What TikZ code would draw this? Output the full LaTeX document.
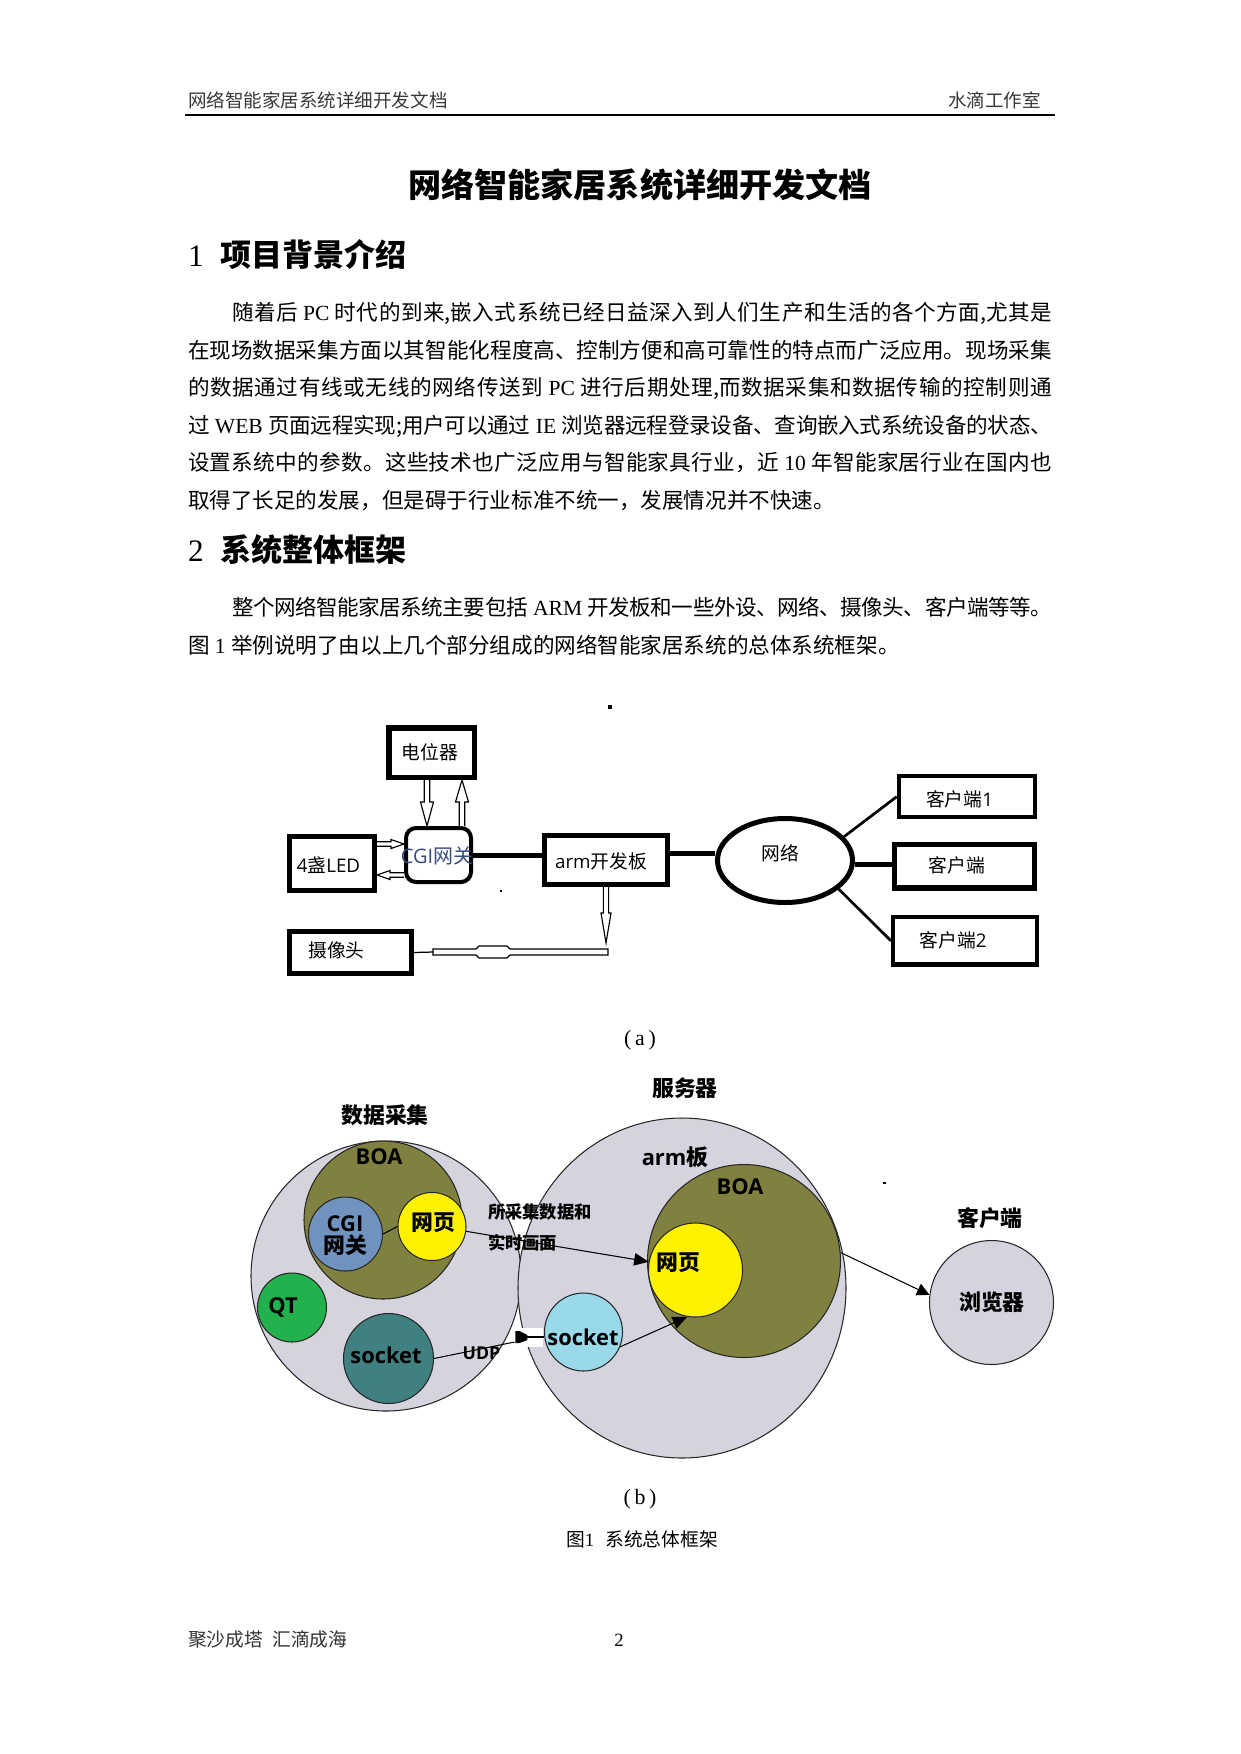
\documentclass[tikz,border=0pt]{standalone}
\usepackage{fontspec}
\usetikzlibrary{calc,arrows.meta,shapes.geometric}
\setmainfont{Liberation Serif}
\newfontfamily\cjk{Noto Sans CJK SC}
\newfontfamily\osans{Open Sans}
\XeTeXinterchartokenstate=1
\newXeTeXintercharclass\clsI
\newcount\cjkc
\cjkc="4E00
\loop\XeTeXcharclass\cjkc=\clsI\ifnum\cjkc<"9FFF\advance\cjkc by 1\repeat
\XeTeXcharclass"3001=\clsI
\XeTeXcharclass"3002=\clsI
\XeTeXcharclass"FF0C=\clsI
\XeTeXcharclass"FF1B=\clsI
\XeTeXinterchartoks\clsI\clsI={\hskip 0pt plus 1pt minus 0.3pt\relax}
\newcommand\latw[1]{{\rmfamily #1}}
\newcommand\lsp{\hspace{0.25em}}
\newcommand\os[1]{{\osans #1}}
\newcommand\harr[6]{\draw[hollowline, shift={#1}, rotate=#2] (0,-#6) -- ({#3-#4},-#6) -- ({#3-#4},-#5) -- (#3,0) -- ({#3-#4},#5) -- ({#3-#4},#6) -- (0,#6);}
\definecolor{cgray}{RGB}{213,211,221}
\definecolor{olivec}{RGB}{128,128,64}
\definecolor{cgiblue}{RGB}{112,146,190}
\definecolor{yelc}{RGB}{255,242,0}
\definecolor{qtgreen}{RGB}{34,177,76}
\definecolor{tealc}{RGB}{64,128,128}
\definecolor{lblue}{RGB}{153,217,234}
\definecolor{cgitext}{RGB}{55,75,125}
\begin{document}
\begin{tikzpicture}[x=0.48pt,y=-0.48pt,
 txt/.style={inner sep=0pt, outer sep=0pt},
 bodyl/.style={txt, anchor=base west, font=\cjk\fontsize{10.35}{12}\selectfont},
 hdr/.style={txt, anchor=base, font=\cjk\fontsize{8.9}{10}\selectfont, text=black!78},
 alab/.style={txt, font=\cjk\fontsize{9}{10}\selectfont},
 blab/.style={txt, font=\cjk\bfseries\fontsize{10.5}{10.5}\selectfont},
 boxa/.style={draw, rectangle, inner sep=0pt, line width=2.4pt},
 bub/.style={circle, draw=black!85, line width=0.5pt, inner sep=0pt},
 hollowline/.style={draw, line width=0.55pt, fill=white},
 thinarr/.style={line width=0.5pt, -{Triangle[length=7pt,width=6pt]}},
]
\fill[white] (0,0) rectangle (1241,1754);
\useasboundingbox (0,0) rectangle (1241,1754);

% ---------- header ----------
\node[hdr, anchor=base west] (hl) at (188,107.9) {网络智能家居系统详细开发文档};
\node[hdr, anchor=base east] (hr) at (1041,107.9) {水滴工作室};
\draw[line width=1.1pt] (185,115) -- (1055,115);

% ---------- title & text ----------
\node[txt, anchor=base, font=\cjk\bfseries\fontsize{15.9}{17}\selectfont] (title) at (640,197.4) {网络智能家居系统详细开发文档};

\node[txt, anchor=base west, font=\fontsize{15}{17}\selectfont] (h1n) at (188,266.6) {1};
\node[txt, anchor=base west, font=\cjk\bfseries\fontsize{14.9}{17}\selectfont] (h1) at (220,266.6) {项目背景介绍};

\node[bodyl] (p1) at (232,320.3) {\hbox to 393.6pt{随着后\lsp\latw{PC}\lsp 时代的到来,嵌入式系统已经日益深入到人们生产和生活的各个方面,尤其是}};
\node[bodyl] (p2) at (188,358.1) {\hbox to 414.7pt{在现场数据采集方面以其智能化程度高、控制方便和高可靠性的特点而广泛应用。现场采集}};
\node[bodyl] (p3) at (188,395.7) {\hbox to 414.7pt{的数据通过有线或无线的网络传送到\lsp\latw{PC}\lsp 进行后期处理,而数据采集和数据传输的控制则通}};
\node[bodyl] (p4) at (188,433.3) {\hbox to 414.7pt{过\lsp\latw{WEB}\lsp 页面远程实现;用户可以通过\lsp\latw{IE}\lsp 浏览器远程登录设备、查询嵌入式系统设备的状态、}};
\node[bodyl] (p5) at (188,470.9) {\hbox to 414.7pt{设置系统中的参数。这些技术也广泛应用与智能家具行业，近\lsp\latw{10}\lsp 年智能家居行业在国内也}};
\node[bodyl] (p6) at (188,508.5) {取得了长足的发展，但是碍于行业标准不统一，发展情况并不快速。};

\node[txt, anchor=base west, font=\fontsize{15}{17}\selectfont] (h2n) at (188,561.1) {2};
\node[txt, anchor=base west, font=\cjk\bfseries\fontsize{14.9}{17}\selectfont] (h2) at (220,561.1) {系统整体框架};

\node[bodyl] (q1) at (232,615.7) {\hbox to 393.6pt{整个网络智能家居系统主要包括\lsp\latw{ARM}\lsp 开发板和一些外设、网络、摄像头、客户端等等。}};
\node[bodyl] (q2) at (188,653.4) {图\lsp\latw{1}\lsp 举例说明了由以上几个部分组成的网络智能家居系统的总体系统框架。};

% ---------- figure (a) ----------
\fill (608,705) rectangle (612,709);
\fill (499.5,889.5) rectangle (501.5,891.5);

\node[boxa, line width=2.64pt, minimum width=41.04pt, minimum height=23.76pt] (pot) at (431.5,752.5) {};
\node[alab] (pott) at (430,752) {电位器};
\node[draw, rectangle, rounded corners=4.8pt, line width=1.92pt, minimum width=31.2pt, minimum height=25.92pt, inner sep=0pt] (cgi) at (438.5,855) {};
\node[alab, text=cgitext, font=\cjk\fontsize{9.6}{10}\selectfont] (cgit) at (437,856) {\os{CGI}网关};
\node[boxa, minimum width=40.8pt, minimum height=25.92pt] (led) at (332,863.5) {};
\node[alab] (ledt) at (328.5,865) {\os{4}盏\os{LED}};
\node[boxa, minimum width=59.04pt, minimum height=23.52pt] (arm) at (606,860) {};
\node[alab] (armt) at (601,861) {\os{arm}开发板};
\node[boxa, minimum width=58.56pt, minimum height=20.16pt] (cam) at (350.5,952.5) {};
\node[alab] (camt) at (336.5,950) {摄像头};
\node[ellipse, draw, line width=2.4pt, minimum width=64.8pt, minimum height=40.32pt, inner sep=0pt] (net) at (785,860.5) {};
\node[alab] (nett) at (780,853) {网络};
\node[boxa, line width=1.92pt, minimum width=65.6pt, minimum height=19.5pt] (c1) at (967,796.7) {};
\node[alab] (c1t) at (959.7,799) {客户端\os{1}};
\node[boxa, line width=2.64pt, minimum width=67.2pt, minimum height=20.9pt] (c0) at (964.5,866.2) {};
\node[alab] (c0t) at (956.7,865) {客户端};
\node[boxa, line width=2.06pt, minimum width=69pt, minimum height=22.75pt] (c2) at (965,940.8) {};
\node[alab] (c2t) at (953,940) {客户端\os{2}};

\draw[line width=2.4pt] (cgi.east) -- (cgi.east -| arm.west);
\draw[line width=2.4pt] ([yshift=2.9pt]arm.east) -- ([yshift=2.9pt]arm.east -| net.west);
\draw[line width=1.3pt] (net.22) -- (c1.west);
\draw[line width=2.4pt] ([yshift=-1.7pt]net.east) -- ([yshift=-1.7pt]net.east -| c0.west);
\draw[line width=1.3pt] (net.-28) -- (c2.west);

\harr{($(pot.south)+(-4.5,0)$)}{-90}{46}{24}{6.5}{2.8}
\harr{($(cgi.north)+(23.5,0)$)}{90}{46}{22}{6.5}{2.8}
\harr{($(led.east)+(0,-19.5)$)}{0}{27}{13}{4.5}{2.2}
\harr{($(cgi.west)+(0,20)$)}{180}{27}{13}{4.5}{2.2}
\harr{(arm.south)}{-90}{56}{30}{5}{2.6}

\coordinate (bend) at ($(arm.south)+(2,65)$);
\draw[hollowline] (bend) ++(0,-3) -- ++(-98,0) -- ++(-3,-3) -- ++(-28,0) -- ++(-3,3) -- ++(-43,0) -- ++(0,6) -- ++(43,0) -- ++(3,3) -- ++(28,0) -- ++(3,-3) -- ++(98,0) -- cycle;
\draw[line width=0.6pt] ($(bend)+(-175,0)$) -- (cam.east);

\node[txt, anchor=base, font=\fontsize{10.5}{12}\selectfont] (capa) at (640,1045.5) {(\,a\,)};

% ---------- figure (b) ----------
\node[bub, fill=cgray, minimum size=129.6pt] (dc) at (386,1276) {};
\node[ellipse, draw=black!85, line width=0.5pt, fill=cgray, minimum width=157.44pt, minimum height=163.2pt, inner sep=0pt] (srv) at (682,1288) {};
\node[bub, fill=olivec, minimum size=75.84pt] (boa1) at (383,1220) {};
\node[bub, fill=cgiblue, minimum size=35.52pt] (cgib) at (345.5,1234) {};
\node[bub, fill=yelc, minimum size=32.64pt] (web1) at (432,1226.5) {};
\node[bub, fill=qtgreen, minimum size=33.12pt] (qt) at (292,1307.5) {};
\node[bub, fill=tealc, minimum size=43.2pt] (sk1) at (388.5,1358.5) {};
\node[bub, fill=olivec, minimum size=92.64pt] (boa2) at (744,1261) {};
\node[bub, fill=yelc, minimum size=45.12pt] (web2) at (695.5,1270) {};
\node[bub, fill=lblue, minimum size=37.44pt] (sk2) at (583.5,1332) {};
\node[bub, fill=cgray, minimum size=59.52pt] (brow) at (991.5,1302.5) {};
\fill (882.5,1181.5) rectangle (885.5,1184);

\draw[line width=0.5pt] (cgib.east) -- (web1.west);
\draw[thinarr] (web1.-8) -- (web2.170);
\draw[thinarr] (sk2.-22) -- (web2.-100);
\draw[line width=0.5pt, -{Triangle[length=6pt,width=6pt]}] (boa2.5) -- (brow.173);

\coordinate (udpe) at ($(sk2.west)+(-29.5,10)$);
\fill[white] ($(sk2.west)+(-31.5,-4)$) rectangle ($(sk2.west)+(-0.5,15)$);
\draw[line width=0.5pt] (sk1.east) -- (udpe);
\fill ($(sk2.west)+(-28.5,-1)$) -- ++(4,0) -- ++(8,4) -- ++(0,5) -- ++(-8,3) -- ++(-4,0) -- cycle;
\draw[line width=1.3pt] ($(sk2.west)+(-16.5,5)$) -- ($(sk2.west)+(0,5)$);

\node[blab] (l1) at (385,1115) {数据采集};
\node[blab] (l2) at (379,1157) {\os{BOA}};
\node[blab, align=center] (l3) at (345,1236) {\os{CGI}\\网关};
\node[blab] (l4) at (433,1223) {网页};
\node[blab] (l5) at (283,1307) {\os{QT}};
\node[blab] (l6) at (386,1355) {\os{socket}};
\node[txt, font=\osans\bfseries\fontsize{8.5}{9}\selectfont] (l7) at (481.5,1353) {UDP};
\node[txt, anchor=west, font=\cjk\bfseries\fontsize{8.3}{9}\selectfont] (l8) at (488,1212) {所采集数据和};
\node[txt, anchor=west, font=\cjk\bfseries\fontsize{8.3}{9}\selectfont] (l9) at (488,1243) {实时画面};
\node[blab] (l10) at (685,1088) {服务器};
\node[blab] (l11) at (675,1157) {\os{arm}板};
\node[blab] (l12) at (740,1187) {\os{BOA}};
\node[blab] (l13) at (678,1263) {网页};
\node[blab] (l14) at (583,1337) {\os{socket}};
\node[blab] (l15) at (990,1218) {客户端};
\node[blab] (l16) at (992,1302) {浏览器};

\node[txt, anchor=base, font=\fontsize{10.5}{12}\selectfont] (capb) at (640,1504.5) {(\,b\,)};
\node[txt, anchor=base, font=\cjk\fontsize{9}{10}\selectfont] (figc) at (642,1546) {图\latw{1}\hspace{0.6em}系统总体框架};

% ---------- footer ----------
\node[txt, anchor=base west, font=\cjk\fontsize{9}{10}\selectfont, text=black!80] (foot) at (188,1646) {聚沙成塔\hspace{0.5em}汇滴成海};
\node[txt, anchor=base, font=\fontsize{9}{10}\selectfont] (pg) at (619,1646) {2};
\end{tikzpicture}
\end{document}
